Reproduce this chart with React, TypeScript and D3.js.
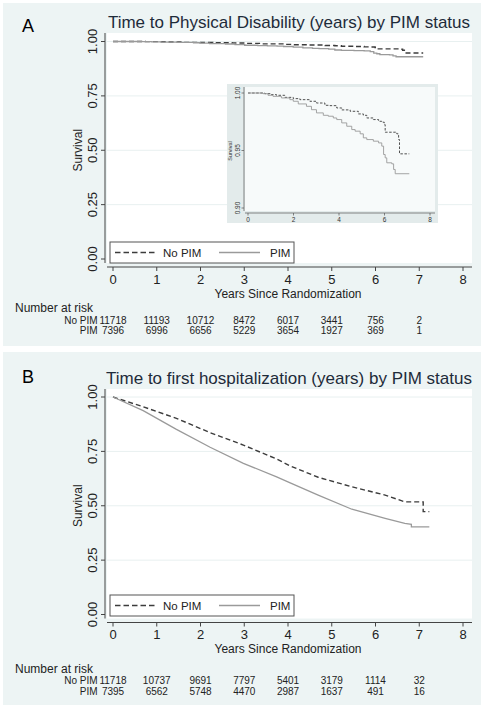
import React from "react";
import * as d3 from "d3";

const years = [0, 1, 2, 3, 4, 5, 6, 7, 8];
const riskYears = [0, 1, 2, 3, 4, 5, 6, 7];
const yTicks = [0, 0.25, 0.5, 0.75, 1];
const insetXTicks = [0, 2, 4, 6, 8];
const insetYTicks = [0.9, 0.95, 1.0];

// Panel A: time to physical disability
const aNoPimT = [0, 0.51, 0.74, 1.03, 1.25, 1.62, 1.99, 2.28, 2.72, 3.01, 3.38, 3.6, 3.9, 4.12, 4.49, 4.85, 5.07, 5.22, 5.51, 5.74, 5.88, 5.99, 6.03, 6.47, 6.54, 6.62, 6.66, 7.09];
const aNoPimS = [1.0, 1.0, 0.9994, 0.9986, 0.998, 0.9962, 0.9951, 0.9942, 0.9928, 0.9913, 0.9893, 0.989, 0.987, 0.9853, 0.9841, 0.9818, 0.9806, 0.9783, 0.9769, 0.9754, 0.9746, 0.9725, 0.9659, 0.9659, 0.9645, 0.9595, 0.9471, 0.9471];
const aPimT = [0, 0.66, 0.88, 1.1, 1.47, 1.84, 1.99, 2.21, 2.57, 2.79, 3.01, 3.31, 3.53, 3.75, 3.9, 4.12, 4.34, 4.56, 4.71, 4.93, 5.07, 5.22, 5.51, 5.74, 5.88, 5.96, 6.03, 6.1, 6.32, 6.4, 6.47, 7.09];
const aPimS = [1.0, 0.9994, 0.998, 0.9971, 0.9957, 0.9942, 0.9928, 0.9905, 0.9884, 0.9855, 0.9827, 0.9806, 0.9798, 0.9783, 0.9769, 0.974, 0.9711, 0.9682, 0.9668, 0.9645, 0.961, 0.9595, 0.9581, 0.9566, 0.9538, 0.9465, 0.9436, 0.9393, 0.9384, 0.9335, 0.9298, 0.9298];
const aRiskNoPim = [11718, 11193, 10712, 8472, 6017, 3441, 756, 2];
const aRiskPim = [7396, 6996, 6656, 5229, 3654, 1927, 369, 1];

// Panel B: time to first hospitalization
const bNoPimT = [0, 0.69, 1.45, 2.22, 2.98, 3.74, 4.05, 4.69, 5.46, 6.22, 6.67, 7.09, 7.09, 7.23];
const bNoPimS = [1.0, 0.955, 0.902, 0.836, 0.779, 0.715, 0.683, 0.631, 0.587, 0.549, 0.518, 0.518, 0.473, 0.473];
const bPimT = [0, 0.69, 1.45, 2.22, 2.98, 3.74, 4.05, 4.69, 5.46, 6.22, 6.67, 6.82, 6.82, 7.23];
const bPimS = [1.0, 0.937, 0.851, 0.769, 0.695, 0.633, 0.605, 0.549, 0.484, 0.442, 0.419, 0.415, 0.403, 0.403];
const bRiskNoPim = [11718, 10737, 9691, 7797, 5401, 3179, 1114, 32];
const bRiskPim = [7395, 6562, 5748, 4470, 2987, 1637, 491, 16];

const FONT = "'Liberation Sans', Arial, Helvetica, sans-serif";
const BG = "#edf4f4";
const GRID = "#e8f0f0";
const DASH_COLOR = "#3c3c3c";
const SOLID_COLOR = "#9a9a9a";

type Layout = {
  label: string;
  title: string;
  bgY: number;
  bgH: number;
  labelY: number;
  titleY: number;
  plotTop: number;
  plotBottom: number;
  y1: number;
  y0: number;
  axisY: number;
  tickLabelY: number;
  axisTitleY: number;
  narY: number;
  row1Y: number;
  row2Y: number;
  legTop: number;
  legBottom: number;
};

function toPts(t: number[], s: number[]): [number, number][] {
  return t.map((v, i) => [v, s[i]] as [number, number]);
}

function Inset() {
  const x = d3.scaleLinear().domain([0, 8]).range([248, 430]);
  const y = d3.scaleLinear().domain([0.9, 1.0]).range([208, 93]);
  const line = d3
    .line<[number, number]>()
    .x((d) => x(d[0]))
    .y((d) => y(d[1]))
    .curve(d3.curveStepAfter);
  return (
    <g>
      <rect x={227} y={84} width={211} height={139} fill="#e3ebeb" />
      <rect x={245} y={87} width={190} height={124} fill="#f7fafa" />
      <line x1={244} x2={244} y1={87} y2={211} stroke="#555" strokeWidth={0.7} />
      <line x1={245} x2={435} y1={213} y2={213} stroke="#555" strokeWidth={0.7} />
      {insetYTicks.map((t) => (
        <g key={t}>
          <line x1={241.5} x2={244} y1={y(t)} y2={y(t)} stroke="#555" strokeWidth={0.7} />
          <text
            transform={`translate(${239.5},${y(t)}) rotate(-90)`}
            textAnchor="middle"
            fontSize={6.5}
            fontFamily={FONT}
            fill="#333"
          >
            {t.toFixed(2)}
          </text>
        </g>
      ))}
      {insetXTicks.map((t) => (
        <g key={t}>
          <line x1={x(t)} x2={x(t)} y1={213} y2={215.5} stroke="#555" strokeWidth={0.7} />
          <text x={x(t)} y={222} textAnchor="middle" fontSize={6.5} fontFamily={FONT} fill="#333">
            {t}
          </text>
        </g>
      ))}
      <text
        transform={`translate(${232},${151}) rotate(-90)`}
        textAnchor="middle"
        fontSize={5.5}
        fontFamily={FONT}
        fill="#333"
      >
        Survival
      </text>
      <path d={line(toPts(aNoPimT, aNoPimS)) || ""} fill="none" stroke={DASH_COLOR} strokeWidth={0.9} strokeDasharray="2.5,1.6" />
      <path d={line(toPts(aPimT, aPimS)) || ""} fill="none" stroke={SOLID_COLOR} strokeWidth={0.9} />
    </g>
  );
}

function Panel(props: {
  L: Layout;
  noPimT: number[];
  noPimS: number[];
  pimT: number[];
  pimS: number[];
  riskNoPim: number[];
  riskPim: number[];
  step: boolean;
  inset?: boolean;
}) {
  const { L } = props;
  const x = d3.scaleLinear().domain([0, 8]).range([113, 463]);
  const y = d3.scaleLinear().domain([0, 1]).range([L.y0, L.y1]);
  const line = d3
    .line<[number, number]>()
    .x((d) => x(d[0]))
    .y((d) => y(d[1]))
    .curve(props.step ? d3.curveStepAfter : d3.curveLinear);
  const midY = (L.y0 + L.y1) / 2;
  const legMid = (L.legTop + L.legBottom) / 2;
  return (
    <g>
      <rect x={3} y={L.bgY} width={478} height={L.bgH} fill={BG} />
      <text x={22} y={L.labelY} fontSize={18} fontFamily={FONT} fill="#000">
        {L.label}
      </text>
      <text x={289} y={L.titleY} textAnchor="middle" fontSize={17} fontFamily={FONT} fill="#1e2b3a">
        {L.title}
      </text>
      <rect x={107} y={L.plotTop} width={365} height={L.plotBottom - L.plotTop} fill="#fff" />
      {yTicks
        .filter((t) => t > 0)
        .map((t) => (
          <line key={t} x1={107} x2={472} y1={y(t)} y2={y(t)} stroke={GRID} strokeWidth={1} />
        ))}
      {/* y axis */}
      <line x1={105} x2={105} y1={L.plotTop} y2={L.plotBottom} stroke="#444" strokeWidth={1} />
      {yTicks.map((t) => (
        <g key={t}>
          <line x1={101} x2={105} y1={y(t)} y2={y(t)} stroke="#444" strokeWidth={1} />
          <text
            transform={`translate(${97},${y(t)}) rotate(-90)`}
            textAnchor="middle"
            fontSize={13}
            fontFamily={FONT}
            fill="#222"
          >
            {t.toFixed(2)}
          </text>
        </g>
      ))}
      <text
        transform={`translate(${82},${midY}) rotate(-90)`}
        textAnchor="middle"
        fontSize={12}
        fontFamily={FONT}
        fill="#222"
      >
        Survival
      </text>
      {/* x axis */}
      <line x1={107} x2={472} y1={L.axisY} y2={L.axisY} stroke="#444" strokeWidth={1} />
      {years.map((t) => (
        <g key={t}>
          <line x1={x(t)} x2={x(t)} y1={L.axisY} y2={L.axisY + 4} stroke="#444" strokeWidth={1} />
          <text x={x(t)} y={L.tickLabelY} textAnchor="middle" fontSize={13} fontFamily={FONT} fill="#222">
            {t}
          </text>
        </g>
      ))}
      <text x={288} y={L.axisTitleY} textAnchor="middle" fontSize={12} fontFamily={FONT} fill="#222">
        Years Since Randomization
      </text>
      {props.inset && <Inset />}
      {/* curves */}
      <path d={line(toPts(props.noPimT, props.noPimS)) || ""} fill="none" stroke={DASH_COLOR} strokeWidth={1.4} strokeDasharray="5,3" />
      <path d={line(toPts(props.pimT, props.pimS)) || ""} fill="none" stroke={SOLID_COLOR} strokeWidth={1.3} />
      {/* legend */}
      <rect x={110} y={L.legTop} width={184} height={L.legBottom - L.legTop} fill="#fff" stroke="#555" strokeWidth={1} />
      <line x1={115} x2={157} y1={legMid} y2={legMid} stroke={DASH_COLOR} strokeWidth={1.4} strokeDasharray="5.5,3" />
      <text x={163} y={legMid + 4} fontSize={11.5} fontFamily={FONT} fill="#222">
        No PIM
      </text>
      <line x1={219} x2={260} y1={legMid} y2={legMid} stroke={SOLID_COLOR} strokeWidth={1.3} />
      <text x={270} y={legMid + 4} fontSize={11.5} fontFamily={FONT} fill="#222">
        PIM
      </text>
      {/* risk table */}
      <text x={15} y={L.narY} fontSize={12} fontFamily={FONT} fill="#222">
        Number at risk
      </text>
      <text x={97.5} y={L.row1Y} textAnchor="end" fontSize={10} fontFamily={FONT} fill="#222">
        No PIM
      </text>
      <text x={97.5} y={L.row2Y} textAnchor="end" fontSize={10} fontFamily={FONT} fill="#222">
        PIM
      </text>
      {riskYears.map((t, i) => (
        <g key={t}>
          <text x={x(t)} y={L.row1Y} textAnchor="middle" fontSize={10} fontFamily={FONT} fill="#222">
            {props.riskNoPim[i]}
          </text>
          <text x={x(t)} y={L.row2Y} textAnchor="middle" fontSize={10} fontFamily={FONT} fill="#222">
            {props.riskPim[i]}
          </text>
        </g>
      ))}
    </g>
  );
}

const layoutA: Layout = {
  label: "A",
  title: "Time to Physical Disability (years) by PIM status",
  bgY: 3,
  bgH: 343,
  labelY: 32,
  titleY: 27.5,
  plotTop: 33,
  plotBottom: 263,
  y1: 41.5,
  y0: 259,
  axisY: 267,
  tickLabelY: 284,
  axisTitleY: 298,
  narY: 312,
  row1Y: 323.5,
  row2Y: 334,
  legTop: 242,
  legBottom: 263,
};

const layoutB: Layout = {
  label: "B",
  title: "Time to first hospitalization (years) by PIM status",
  bgY: 352,
  bgH: 353,
  labelY: 383,
  titleY: 384,
  plotTop: 389,
  plotBottom: 618.5,
  y1: 397,
  y0: 614.5,
  axisY: 622.5,
  tickLabelY: 638.5,
  axisTitleY: 653,
  narY: 673,
  row1Y: 684,
  row2Y: 694.5,
  legTop: 595,
  legBottom: 616,
};

export default function App() {
  return (
    <svg
      width={485}
      height={708}
      style={{ position: "absolute", left: 0, top: 0, background: "#fff" }}
    >
      <Panel
        L={layoutA}
        noPimT={aNoPimT}
        noPimS={aNoPimS}
        pimT={aPimT}
        pimS={aPimS}
        riskNoPim={aRiskNoPim}
        riskPim={aRiskPim}
        step={true}
        inset={true}
      />
      <Panel
        L={layoutB}
        noPimT={bNoPimT}
        noPimS={bNoPimS}
        pimT={bPimT}
        pimS={bPimS}
        riskNoPim={bRiskNoPim}
        riskPim={bRiskPim}
        step={false}
      />
    </svg>
  );
}
